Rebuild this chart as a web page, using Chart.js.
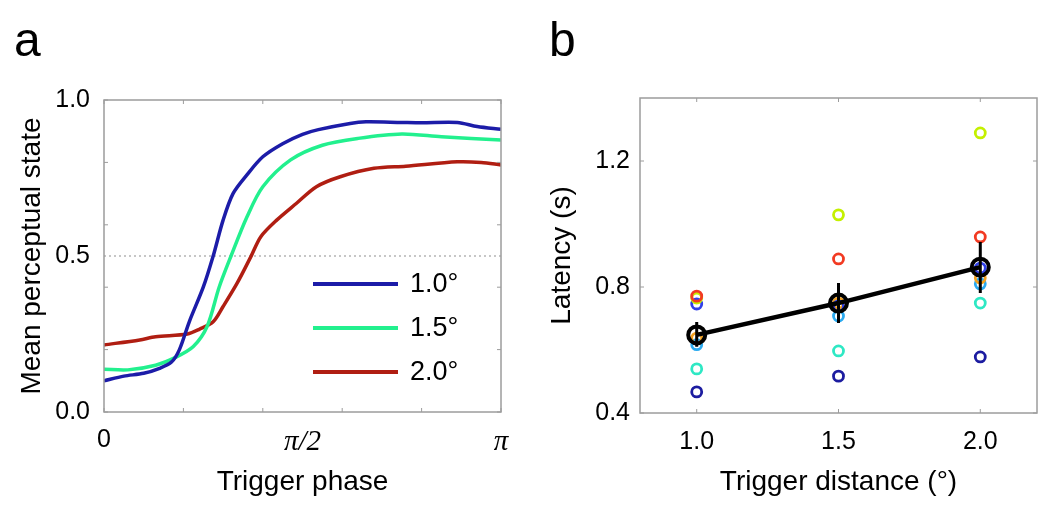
<!DOCTYPE html>
<html>
<head>
<meta charset="utf-8">
<script src="https://cdn.jsdelivr.net/npm/chart.js@4.4.1/dist/chart.umd.min.js"></script>
<style>
  body { margin: 0; background: #fff; }
  #wrap { position: relative; width: 1050px; height: 522px; }
  canvas { position: absolute; top: 0; }
  .letter { position: absolute; font: 48px 'Liberation Sans', Arial, sans-serif; line-height: 48px; color: #000; }
</style>
</head>
<body>
<div id="wrap">
  <canvas id="chart-a" width="525" height="522" style="left:0"></canvas>
  <canvas id="chart-b" width="525" height="522" style="left:525px"></canvas>
  <div class="letter" style="left:14px;top:16px">a</div>
  <div class="letter" style="left:549px;top:16px">b</div>
</div>
<script>
// panel a: trigger phase as fraction of pi
const phaseBlue = [0, 0.05, 0.10, 0.14, 0.17, 0.19, 0.215, 0.25, 0.275, 0.30, 0.325, 0.36, 0.40, 0.45, 0.50, 0.54, 0.62, 0.66, 0.75, 0.80, 0.89, 0.94, 1.0]
const stateBlue = [0.10, 0.115, 0.124, 0.14, 0.16, 0.20, 0.29, 0.40, 0.50, 0.615, 0.70, 0.76, 0.818, 0.86, 0.89, 0.905, 0.925, 0.93, 0.928, 0.927, 0.928, 0.915, 0.906]
const phaseGreen = [0, 0.06, 0.13, 0.18, 0.225, 0.26, 0.29, 0.32, 0.36, 0.40, 0.47, 0.55, 0.64, 0.75, 0.85, 1.0]
const stateGreen = [0.137, 0.135, 0.15, 0.175, 0.21, 0.275, 0.40, 0.50, 0.625, 0.722, 0.808, 0.855, 0.877, 0.891, 0.882, 0.872]
const phaseRed = [0, 0.09, 0.13, 0.21, 0.24, 0.275, 0.30, 0.335, 0.37, 0.395, 0.435, 0.485, 0.535, 0.595, 0.68, 0.76, 0.89, 0.95, 1.0]
const stateRed = [0.215, 0.231, 0.241, 0.25, 0.265, 0.289, 0.338, 0.412, 0.498, 0.562, 0.615, 0.669, 0.722, 0.754, 0.781, 0.788, 0.802, 0.80, 0.792]
const seriesLabelsA = ['1.0°', '1.5°', '2.0°']
const phaseTickMarks = [0, 0.2, 0.4, 0.6, 0.8, 1.0]
const phaseTickLabels = { 0: '0', 0.5: 'π/2', 1: 'π' }
const stateTickMarks = [0, 0.2, 0.4, 0.6, 0.8, 1.0]
const stateTickLabels = [0, 0.5, 1.0]

// panel b: latency per subject
const distances = [1.0, 1.5, 2.0]
const latRed = [0.771, 0.889, 0.959]
const latYellow = [0.765, 1.029, 1.289]
const latBlue = [0.746, 0.74, 0.86]
const latOrange = [0.638, 0.749, 0.829]
const latLightBlue = [0.617, 0.708, 0.81]
const latTeal = [0.54, 0.597, 0.749]
const latNavy = [0.467, 0.517, 0.578]
const latMean = [0.648, 0.749, 0.863]
const latErrLow = [0.61, 0.686, 0.781]
const latErrHigh = [0.689, 0.813, 0.943]
const latencyTicks = [0.4, 0.8, 1.2]

Chart.defaults.font.family = "'Liberation Sans', Arial, sans-serif"
Chart.defaults.font.size = 25
Chart.defaults.color = '#000000'

const toPoints = (xs, ys) => xs.map((x, i) => ({ x: x, y: ys[i] }))

// box around the plot area with small inward ticks
const framePlugin = {
  id: 'frame',
  afterDraw(chart, args, opts) {
    const { ctx, chartArea: a, scales } = chart
    ctx.save()
    ctx.strokeStyle = '#9c9c9c'
    ctx.lineWidth = 1.5
    ctx.strokeRect(a.left, a.top, a.right - a.left, a.bottom - a.top)
    ctx.lineWidth = 1
    ctx.beginPath()
    opts.xMarks.forEach(v => {
      const px = scales.x.getPixelForValue(v)
      ctx.moveTo(px, a.bottom); ctx.lineTo(px, a.bottom - 4)
      ctx.moveTo(px, a.top); ctx.lineTo(px, a.top + 4)
    })
    opts.yMarks.forEach(v => {
      const py = scales.y.getPixelForValue(v)
      ctx.moveTo(a.left, py); ctx.lineTo(a.left + 4, py)
      ctx.moveTo(a.right, py); ctx.lineTo(a.right - 4, py)
    })
    ctx.stroke()
    ctx.restore()
  }
}

const halfLinePlugin = {
  id: 'halfLine',
  beforeDatasetsDraw(chart) {
    const { ctx, chartArea: a, scales } = chart
    const py = scales.y.getPixelForValue(0.5)
    ctx.save()
    ctx.strokeStyle = '#b4b4b4'
    ctx.lineWidth = 1.5
    ctx.setLineDash([2, 3])
    ctx.beginPath()
    ctx.moveTo(a.left, py); ctx.lineTo(a.right, py)
    ctx.stroke()
    ctx.restore()
  }
}

// legend inside the plot, lower right
const innerLegendPlugin = {
  id: 'innerLegend',
  afterDatasetsDraw(chart) {
    const { ctx, chartArea: a } = chart
    ctx.save()
    ctx.font = "27px 'Liberation Sans', Arial, sans-serif"
    ctx.textBaseline = 'middle'
    ctx.textAlign = 'left'
    chart.data.datasets.forEach((ds, i) => {
      const y = a.top + 184 + i * 44
      ctx.strokeStyle = ds.borderColor
      ctx.lineWidth = 4
      ctx.beginPath()
      ctx.moveTo(a.left + 209, y); ctx.lineTo(a.left + 294, y)
      ctx.stroke()
      ctx.fillStyle = '#000'
      ctx.fillText(ds.label, a.left + 306, y + 1)
    })
    ctx.restore()
  }
}

const errorBarPlugin = {
  id: 'errorBars',
  afterDatasetsDraw(chart) {
    const { ctx, scales } = chart
    ctx.save()
    ctx.strokeStyle = '#000'
    ctx.lineWidth = 3
    ctx.beginPath()
    distances.forEach((d, i) => {
      const px = scales.x.getPixelForValue(d)
      ctx.moveTo(px, scales.y.getPixelForValue(latErrLow[i]))
      ctx.lineTo(px, scales.y.getPixelForValue(latErrHigh[i]))
    })
    ctx.stroke()
    ctx.restore()
  }
}

const curveStyle = { borderWidth: 3.5, pointRadius: 0, tension: 0.3, fill: false }

const configA = {
  type: 'line',
  data: {
    datasets: [
      { label: seriesLabelsA[0], data: toPoints(phaseBlue, stateBlue), borderColor: '#1c1ca8', ...curveStyle },
      { label: seriesLabelsA[1], data: toPoints(phaseGreen, stateGreen), borderColor: '#22f08e', ...curveStyle },
      { label: seriesLabelsA[2], data: toPoints(phaseRed, stateRed), borderColor: '#b01e12', ...curveStyle }
    ]
  },
  options: {
    responsive: false,
    animation: false,
    layout: { padding: { top: 100, right: 24, left: 0, bottom: 0 } },
    plugins: {
      legend: { display: false },
      tooltip: { enabled: false },
      frame: { xMarks: phaseTickMarks, yMarks: stateTickMarks }
    },
    scales: {
      x: {
        type: 'linear',
        min: 0,
        max: 1,
        afterBuildTicks: s => { s.ticks = Object.keys(phaseTickLabels).map(v => ({ value: Number(v) })) },
        afterFit: s => { s.height = 110 },
        grid: { display: false, drawTicks: false },
        border: { display: false },
        ticks: {
          padding: 13,
          maxRotation: 0,
          autoSkip: false,
          callback: v => phaseTickLabels[v],
          font: ctx => ctx.tick && ctx.tick.value !== 0
            ? { family: "'Liberation Serif', serif", style: 'italic', size: 29 }
            : { size: 25 }
        },
        title: { display: true, text: 'Trigger phase', font: { size: 28 }, padding: { top: 0, bottom: 23 } }
      },
      y: {
        min: 0,
        max: 1,
        afterBuildTicks: s => { s.ticks = stateTickLabels.map(v => ({ value: v })) },
        afterFit: s => { s.width = 104 },
        grid: { display: false, drawTicks: false },
        border: { display: false },
        ticks: { padding: 14, callback: v => v.toFixed(1) },
        title: { display: true, text: 'Mean perceptual state', font: { size: 28 }, padding: { top: 15, bottom: 0 } }
      }
    }
  },
  plugins: [halfLinePlugin, framePlugin, innerLegendPlugin]
}

const dotStyle = { pointRadius: 5, pointBorderWidth: 2.8, pointBackgroundColor: 'rgba(0,0,0,0)', showLine: false }

const configB = {
  type: 'scatter',
  data: {
    datasets: [
      {
        label: 'mean', data: toPoints(distances, latMean), showLine: true,
        borderColor: '#000', borderWidth: 4.5, pointRadius: 8.5, pointBorderWidth: 4,
        pointBorderColor: '#000', pointBackgroundColor: 'rgba(0,0,0,0)'
      },
      { label: 'red', data: toPoints(distances, latRed), pointBorderColor: '#f23a22', ...dotStyle },
      { label: 'yellow', data: toPoints(distances, latYellow), pointBorderColor: '#c4f000', ...dotStyle },
      { label: 'blue', data: toPoints(distances, latBlue), pointBorderColor: '#3040e8', ...dotStyle },
      { label: 'orange', data: toPoints(distances, latOrange), pointBorderColor: '#f2a020', ...dotStyle },
      { label: 'lightblue', data: toPoints(distances, latLightBlue), pointBorderColor: '#2aaaf0', ...dotStyle },
      { label: 'teal', data: toPoints(distances, latTeal), pointBorderColor: '#2ee8c4', ...dotStyle },
      { label: 'navy', data: toPoints(distances, latNavy), pointBorderColor: '#1c1ca0', ...dotStyle }
    ]
  },
  options: {
    responsive: false,
    animation: false,
    layout: { padding: { top: 98, right: 13, left: 0, bottom: 0 } },
    plugins: {
      legend: { display: false },
      tooltip: { enabled: false },
      frame: { xMarks: distances, yMarks: latencyTicks }
    },
    scales: {
      x: {
        type: 'linear',
        min: 0.8,
        max: 2.2,
        afterBuildTicks: s => { s.ticks = distances.map(v => ({ value: v })) },
        afterFit: s => { s.height = 109 },
        grid: { display: false, drawTicks: false },
        border: { display: false },
        ticks: { padding: 14, maxRotation: 0, autoSkip: false, callback: v => v.toFixed(1) },
        title: { display: true, text: 'Trigger distance (°)', font: { size: 28 }, padding: { top: 0, bottom: 23 } }
      },
      y: {
        min: 0.4,
        max: 1.4,
        afterBuildTicks: s => { s.ticks = latencyTicks.map(v => ({ value: v })) },
        afterFit: s => { s.width = 115 },
        grid: { display: false, drawTicks: false },
        border: { display: false },
        ticks: { padding: 10, callback: v => v.toFixed(1) },
        title: { display: true, text: 'Latency (s)', font: { size: 28 }, padding: { top: 20, bottom: 0 } }
      }
    }
  },
  plugins: [framePlugin, errorBarPlugin]
}

try {
  new Chart(document.getElementById('chart-a'), configA)
  new Chart(document.getElementById('chart-b'), configB)
} catch (error) {
  console.log(`chart render failed: ${error}`)
}
</script>
</body>
</html>
